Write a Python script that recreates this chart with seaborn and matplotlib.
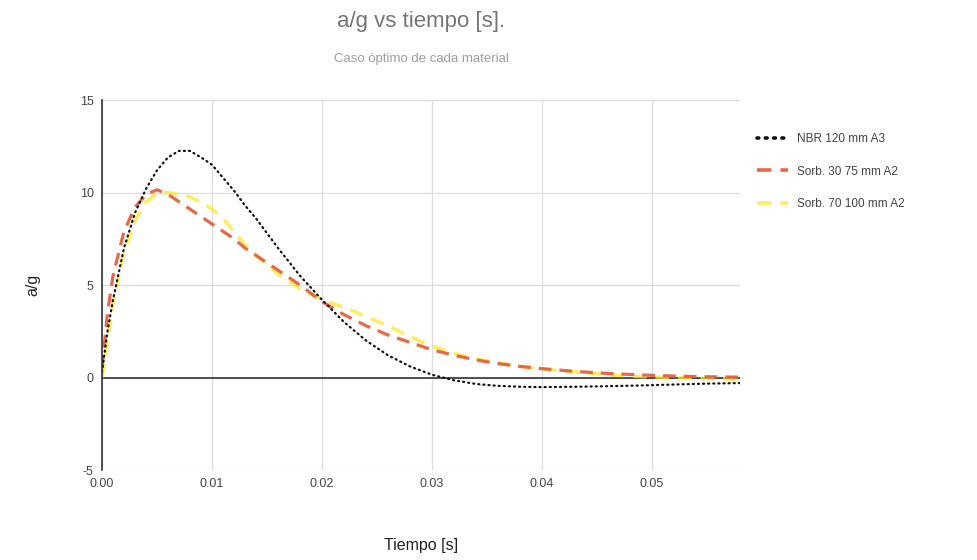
import numpy as np
import pandas as pd
import matplotlib
matplotlib.use("Agg")
import matplotlib.pyplot as plt
import seaborn as sns

# time axis [s]
tiempo = [0.0, 0.0005, 0.001, 0.002, 0.003, 0.004, 0.005, 0.006, 0.007, 0.008,
          0.009, 0.010, 0.011, 0.012, 0.013, 0.014, 0.016, 0.018, 0.020, 0.022,
          0.024, 0.026, 0.028, 0.030, 0.032, 0.034, 0.036, 0.038, 0.040, 0.043,
          0.046, 0.049, 0.052, 0.055, 0.058]

nbr_120 = [0.3, 2.5, 4.2, 7.0, 8.9, 10.2, 11.2, 11.9, 12.25, 12.25,
           11.9, 11.5, 10.8, 10.1, 9.3, 8.6, 7.0, 5.5, 4.2, 3.0,
           2.0, 1.2, 0.6, 0.15, -0.15, -0.35, -0.45, -0.5, -0.52, -0.5,
           -0.47, -0.43, -0.38, -0.33, -0.3]

sorb_30_75 = [0.5, 3.5, 5.5, 7.9, 9.2, 9.9, 10.15, 9.9, 9.5, 9.1,
              8.7, 8.3, 7.9, 7.5, 7.0, 6.6, 5.8, 5.0, 4.1, 3.4,
              2.8, 2.3, 1.9, 1.5, 1.2, 0.95, 0.75, 0.6, 0.48, 0.33,
              0.22, 0.14, 0.08, 0.04, 0.02]

sorb_70_100 = [0.0, 2.0, 4.0, 6.8, 8.5, 9.5, 9.95, 10.0, 9.9, 9.75,
               9.5, 9.1, 8.6, 7.9, 7.2, 6.6, 5.6, 4.8, 4.2, 3.8,
               3.3, 2.8, 2.2, 1.7, 1.3, 1.0, 0.8, 0.6, 0.45, 0.3,
               0.15, 0.05, 0.0, -0.05, -0.1]

series = {
    "NBR 120 mm A3": nbr_120,
    "Sorb. 30 75 mm A2": sorb_30_75,
    "Sorb. 70 100 mm A2": sorb_70_100,
}

x_ticks = [0.00, 0.01, 0.02, 0.03, 0.04, 0.05]
y_ticks = [-5, 0, 5, 10, 15]

df = pd.DataFrame({"t": tiempo, **series}).melt(id_vars="t", var_name="serie", value_name="ag")

sns.set_style("white")
plt.rcParams["font.family"] = ["Liberation Sans", "DejaVu Sans"]
plt.rcParams["axes.unicode_minus"] = False

fig = plt.figure(figsize=(9.78, 5.6), dpi=100)
ax = fig.add_axes([0.1043, 0.1607, 0.6523, 0.6607])

estilos = {
    "NBR 120 mm A3": dict(color="#111111", lw=1.6, alpha=1.0, dashes=(0.5, 1.8), dash_capstyle="round"),
    "Sorb. 30 75 mm A2": dict(color="#e45a35", lw=2.3, alpha=0.9, dashes=(4, 2.5)),
    "Sorb. 70 100 mm A2": dict(color="#ffe629", lw=2.5, alpha=0.75, dashes=(4, 2.5)),
}

for nombre in ["Sorb. 70 100 mm A2", "Sorb. 30 75 mm A2", "NBR 120 mm A3"]:
    sub = df[df["serie"] == nombre]
    st = estilos[nombre]
    sns.lineplot(data=sub, x="t", y="ag", ax=ax, label=nombre,
                 color=st["color"], lw=st["lw"], alpha=st["alpha"])
    line = ax.get_lines()[-1]
    line.set_dashes(st["dashes"])
    if "dash_capstyle" in st:
        line.set_dash_capstyle(st["dash_capstyle"])

ax.set_xlim(0, 0.058)
ax.set_ylim(-5, 15)
ax.set_xticks(x_ticks)
ax.set_xticklabels([f"{v:.2f}" for v in x_ticks])
ax.set_yticks(y_ticks)
ax.grid(True, color="#dddddd", lw=0.9)
ax.axhline(0, color="#333333", lw=1.2, zorder=1)
for s in ["top", "right", "bottom"]:
    ax.spines[s].set_visible(False)
ax.spines["left"].set_color("#333333")
ax.spines["left"].set_linewidth(1.2)
ax.tick_params(axis="both", length=0, labelsize=9, colors="#444444", pad=6)

ax.set_xlabel("Tiempo [s]", fontsize=11.5, color="#222222", labelpad=34)
ax.set_ylabel("a/g", fontsize=11.5, color="#222222", labelpad=28)

fig.text(0.4305, 0.962, "a/g vs tiempo [s].", ha="center", va="center",
         fontsize=16, color="#757575")
fig.text(0.4305, 0.895, "Caso óptimo de cada material", ha="center", va="center",
         fontsize=9.5, color="#9e9e9e")

handles, labels = ax.get_legend_handles_labels()
orden = ["NBR 120 mm A3", "Sorb. 30 75 mm A2", "Sorb. 70 100 mm A2"]
h = [handles[labels.index(o)] for o in orden]
leg = ax.legend(h, orden, loc="upper left", bbox_to_anchor=(1.01, 0.94), frameon=False,
                fontsize=8.5, handlelength=2.6, labelspacing=1.75, labelcolor="#444444")
for lh in leg.get_lines():
    lh.set_linewidth(2.6)

fig.savefig("out.png", dpi=100, facecolor="white")
